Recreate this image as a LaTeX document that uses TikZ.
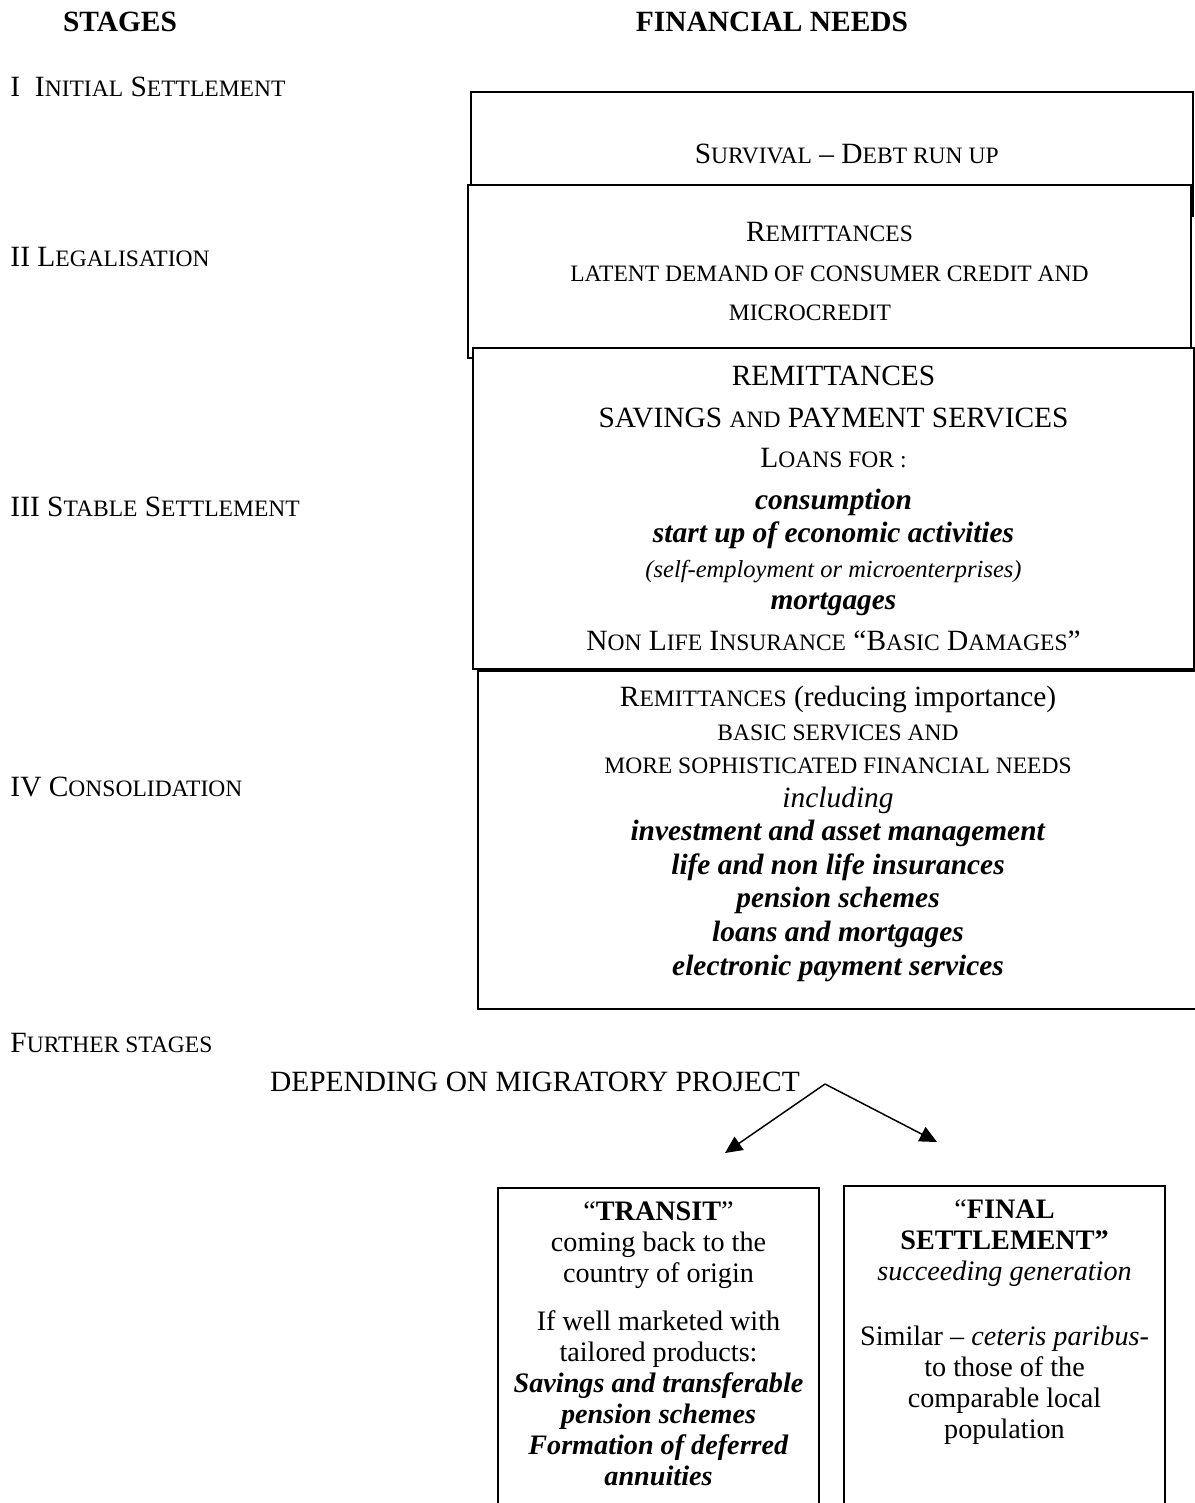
\documentclass[tikz,border=0pt]{standalone}
\usepackage{fontspec}
\setmainfont{Liberation Serif}
\usepackage{tikz}
\usetikzlibrary{arrows.meta,positioning}
\newcommand{\smc}[1]{{\fontsize{9.6pt}{11pt}\selectfont #1}}

\begin{document}
\begin{tikzpicture}[x=0.408pt,y=-0.408pt,
    every node/.style={font=\fontsize{12pt}{14.4pt}\selectfont, inner sep=0pt},
    head/.style={font=\fontsize{12pt}{14.4pt}\selectfont\bfseries},
    stage/.style={anchor=west},
    needbox/.style={draw, line width=0.8pt, fill=white, anchor=north west, align=center},
    endbox/.style={draw, line width=0.8pt, anchor=north west, minimum width=131pt, minimum height=137pt},
    endtext/.style={anchor=north, align=center, font=\fontsize{11.5pt}{12.6pt}\selectfont},
    branch/.style={-{Triangle[length=7pt,width=6.5pt]}, line width=0.6pt}]
    \useasboundingbox (0,0) rectangle (1195,1503);
    \clip (0,0) rectangle (1195,1503);

    \node[head] (STG) at (120,22) {STAGES};
    \node[head] (FIN) at (772,22) {FINANCIAL NEEDS};

    \node[stage] (ST1) at (10,87) {I\ \ I\smc{NITIAL} S\smc{ETTLEMENT}};
    \node[stage] (ST2) at (10,257) {II L\smc{EGALISATION}};
    \node[stage] (ST3) at (10,507) {III S\smc{TABLE} S\smc{ETTLEMENT}};
    \node[stage] (ST4) at (10,787) {IV C\smc{ONSOLIDATION}};
    \node[stage] (ST5) at (10,1043) {F\smc{URTHER STAGES}};

    \node[needbox, minimum width=294.6pt, minimum height=50.6pt] (NEED1) at (470,91)
        {\hspace*{12pt}S\smc{URVIVAL} -- D\smc{EBT RUN UP}};
    \node[needbox, minimum width=295pt, minimum height=70.6pt] (NEED2) at (467,184)
        {R\smc{EMITTANCES}\\[1.9pt]
         \smc{LATENT DEMAND OF CONSUMER CREDIT AND}\\[1.9pt]
         \smc{MICROCREDIT}\hspace*{16pt}};
    \node[needbox, minimum width=294.2pt, minimum height=131pt,
          font=\fontsize{12pt}{13.5pt}\selectfont] (NEED3) at (472,347)
        {REMITTANCES\\[3.6pt]
         SAVINGS \smc{AND} PAYMENT SERVICES\\[2.8pt]
         L\smc{OANS FOR :}\\[3.6pt]
         \textbf{\textit{consumption}}\\
         \textbf{\textit{start up of economic activities}}\\[0.8pt]
         {\fontsize{10pt}{12pt}\selectfont\textit{(self-employment or microenterprises)}}\\[-0.4pt]
         \textbf{\textit{mortgages}}\\[3.2pt]
         N\smc{ON} L\smc{IFE} I\smc{NSURANCE} ``B\smc{ASIC} D\smc{AMAGES}''};
    \node[needbox, minimum width=293.8pt, minimum height=137.9pt,
          font=\fontsize{12pt}{13.7pt}\selectfont] (NEED4) at (477,670)
        {R\smc{EMITTANCES} (reducing importance)\\
         \smc{BASIC SERVICES AND}\\
         \smc{MORE SOPHISTICATED FINANCIAL NEEDS}\\
         \textit{including}\\
         \textbf{\textit{investment and asset management}}\\
         \textbf{\textit{life and non life insurances}}\\
         \textbf{\textit{pension schemes}}\\
         \textbf{\textit{loans and mortgages}}\\
         \textbf{\textit{electronic payment services}}\\[-6pt]
         \mbox{}};

    \node (DEP) at (535,1082) {DEPENDING ON MIGRATORY PROJECT};
    \coordinate (split) at (825,1084);
    \coordinate (toleft) at (725,1153);
    \coordinate (toright) at (937,1142);
    \draw[branch] (split) -- (toleft);
    \draw[branch] (split) -- (toright);

    \node[endbox] (TRB) at (497,1187) {};
    \node[endbox] (FNB) at (843,1185) {};
    \node[endtext, below=6pt of TRB.north] (TRT)
        {``\textbf{TRANSIT}''\\
         coming back to the\\
         country of origin\\[7pt]
         If well marketed with\\
         tailored products:\\
         \textbf{\textit{Savings and transferable}}\\
         \textbf{\textit{pension schemes}}\\
         \textbf{\textit{Formation of deferred}}\\
         \textbf{\textit{annuities}}};
    \node[endtext, below=6pt of FNB.north] (FNT)
        {``\textbf{FINAL}\\
         \textbf{SETTLEMENT''}\\
         \textit{succeeding generation}\\[14pt]
         Similar -- \textit{ceteris paribus}-\\
         to those of the\\
         comparable local\\
         population};
\end{tikzpicture}
\end{document}
